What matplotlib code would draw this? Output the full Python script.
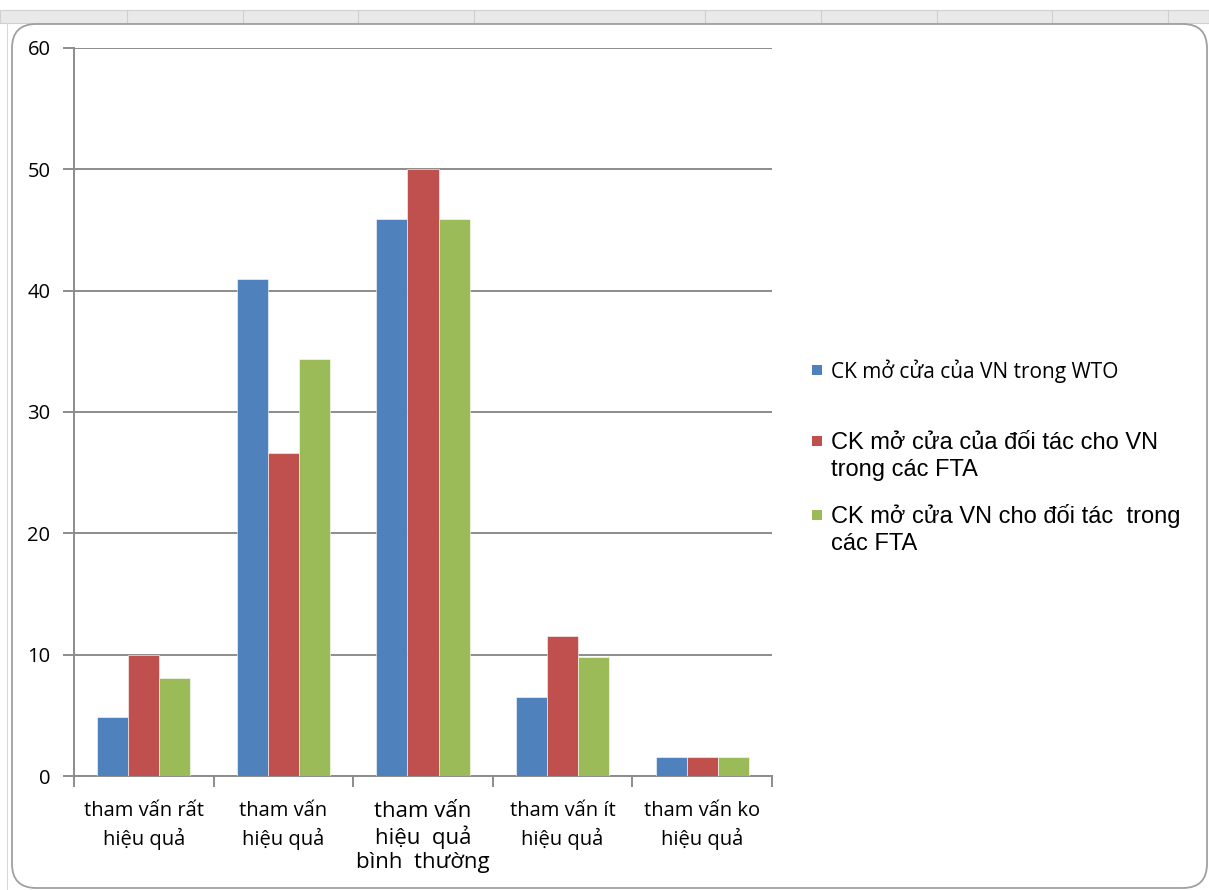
import matplotlib.pyplot as plt
import numpy as np
from matplotlib.patches import FancyBboxPatch, Rectangle

categories = ['tham vấn rất\nhiệu quả', 'tham vấn\nhiệu quả', 'tham vấn\nhiệu  quả\nbình  thường',
              'tham vấn ít\nhiệu quả', 'tham vấn ko\nhiệu quả']
series_names = ['CK mở cửa của VN trong WTO',
                'CK mở cửa của đối tác cho VN\ntrong các FTA',
                'CK mở cửa VN cho đối tác  trong\ncác FTA']
wto = [4.9, 41.0, 45.9, 6.5, 1.6]
fta_partner = [10.0, 26.6, 50.0, 11.5, 1.6]
fta_vn = [8.1, 34.4, 45.9, 9.8, 1.6]
colors = ['#4f81bd', '#c0504d', '#9bbb59']

W, H = 1209, 890
fig = plt.figure(figsize=(W / 100, H / 100), dpi=100)
fig.patch.set_facecolor('white')

# spreadsheet header strip and chart frame
fig.patches.append(Rectangle((0, 1 - 23 / H), 1, 13 / H, transform=fig.transFigure,
                             facecolor='#e9e9e9', edgecolor='#d0d0d0', lw=0.8, zorder=-2))
for xs in [127, 243, 358, 474, 705, 821, 937, 1052, 1168]:
    fig.lines.append(plt.Line2D([xs / W, xs / W], [1 - 23 / H, 1 - 10 / H],
                                transform=fig.transFigure, color='#cfcfcf', lw=0.8, zorder=-1))
fig.patches.append(Rectangle((7 / W, 0), 1 / W, 1 - 23 / H, transform=fig.transFigure,
                             facecolor='#d6d6d6', edgecolor='none', zorder=-2))
fig.patches.append(FancyBboxPatch((12 / W, 2 / H), 1195 / W, 864 / H,
                                  boxstyle='round,pad=0,rounding_size=0.02',
                                  mutation_aspect=W / H,
                                  transform=fig.transFigure, facecolor='white',
                                  edgecolor='#a0a0a0', lw=1.3, zorder=-1))

ax = fig.add_axes([74 / W, 1 - 776 / H, (772 - 74) / W, (776 - 48) / H])
ax.set_facecolor('none')
ax.set_zorder(2)

x = np.arange(len(categories))
bw = 1 / 4.5
for i, (vals, c) in enumerate(zip([wto, fta_partner, fta_vn], colors)):
    ax.bar(x + (i - 1) * bw, vals, width=bw, color=c, edgecolor='white', linewidth=0.4, zorder=3)

ax.set_xlim(-0.5, len(categories) - 0.5)
ax.set_ylim(0, 60)
ax.set_yticks(range(0, 61, 10))
ax.yaxis.grid(True, color='#8c8c8c', lw=1.4, zorder=0)
ax.set_axisbelow(True)
for s in ['top', 'right']:
    ax.spines[s].set_visible(False)
for s in ['left', 'bottom']:
    ax.spines[s].set_color('#8c8c8c')
    ax.spines[s].set_linewidth(1.4)
ax.tick_params(axis='y', length=8, width=1.4, color='#8c8c8c', pad=9, labelsize=14.5)
ax.set_xticks(np.arange(-0.5, len(categories), 1))
ax.set_xticks(x, minor=True)
ax.set_xticklabels([])
ax.set_xticklabels(categories, minor=True, fontsize=14.5, linespacing=1.4, fontfamily='Open Sans')
ax.tick_params(axis='x', which='major', length=8, width=1.4, color='#8c8c8c')
ax.tick_params(axis='x', which='minor', length=0, pad=18)
ax.get_xticklabels(minor=True)[2].set_fontsize(16)
ax.get_xticklabels(minor=True)[2].set_linespacing(1.2)
for lab in ax.get_yticklabels():
    lab.set_fontfamily('Open Sans')

# legend drawn as squares plus text, one baseline per line
leg_y = [370, 441, 515]
leg_size = [15, 17, 17]
leg_font = ['Open Sans', 'Liberation Sans', 'Liberation Sans']
for name, c, yy, fs, ff in zip(series_names, colors, leg_y, leg_size, leg_font):
    fig.patches.append(Rectangle((812 / W, 1 - (yy + 5) / H), 10 / W, 10 / H,
                                 transform=fig.transFigure, facecolor=c, edgecolor='none'))
    for k, line in enumerate(name.split('\n')):
        fig.text(831 / W, 1 - (yy + 8 + 27 * k) / H, line, fontsize=fs, fontfamily=ff,
                 va='baseline', ha='left', color='black')

fig.savefig('out.png', dpi=100)
